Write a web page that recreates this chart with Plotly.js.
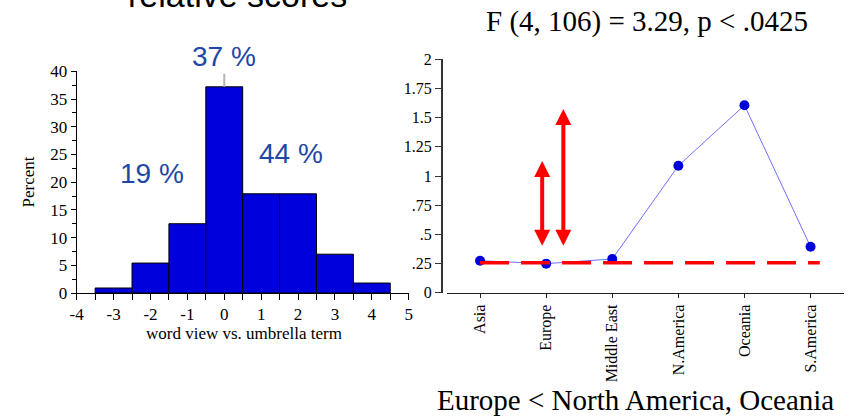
<!DOCTYPE html>
<html><head><meta charset="utf-8">
<script src="https://cdn.plot.ly/plotly-3.0.1.min.js"></script>
<style>html,body{margin:0;padding:0;background:#fff}#chart{width:854px;height:416px}</style>
</head><body><div id="chart"></div>
<script>
// ---- data ----
const binCenters = [-3, -2, -1, 0, 1, 2, 3, 4];
const binPercents = [0.9, 5.4, 12.5, 37.2, 17.9, 17.9, 7.0, 1.8];
const histXTicks = [-4, -3, -2, -1, 0, 1, 2, 3, 4, 5];
const histXTickLabels = ['-4', '-3', '-2', '-1', '0', '1', '2', '3', '4', '5'];
const regions = ['Asia', 'Europe', 'Middle East', 'N.America', 'Oceania', 'S.America'];
const regionMeans = [0.274, 0.249, 0.289, 1.088, 1.606, 0.394];
const meanTicks = [0, 0.25, 0.5, 0.75, 1, 1.25, 1.5, 1.75, 2];
const meanTickLabels = ['0', '.25', '.5', '.75', '1', '1.25', '1.5', '1.75', '2'];
const refLevel = 0.257;
const shareLabels = ['19 %', '37 %', '44 %'];

// ---- layout helpers ----
const W = 854, H = 416;
const px = v => v / W;
const py = v => 1 - v / H;
const SERIF = 'Liberation Serif, Times New Roman, serif';
const SANS = 'Liberation Sans, Arial, sans-serif';
const BLUE_TXT = '#1f47a6';

const traces = [
  {
    type: 'bar', x: binCenters, y: binPercents, width: 1,
    marker: {color: '#0000dd', line: {color: '#000', width: 1}},
    xaxis: 'x', yaxis: 'y', hoverinfo: 'none'
  },
  {
    type: 'scatter', mode: 'lines+markers', x: regions, y: regionMeans,
    line: {color: '#6f6fff', width: 1},
    marker: {color: '#0000dd', size: 10},
    xaxis: 'x2', yaxis: 'y2', hoverinfo: 'none'
  }
];

const layout = {
  width: W, height: H,
  margin: {l: 0, r: 0, t: 0, b: 0},
  paper_bgcolor: '#fff', plot_bgcolor: 'rgba(0,0,0,0)',
  showlegend: false,
  bargap: 0,
  xaxis: {
    domain: [px(76.7), px(408.7)], range: [-4, 5], anchor: 'y',
    tickvals: histXTicks, ticktext: histXTickLabels,
    showline: true, linecolor: '#000', linewidth: 1,
    ticks: 'outside', ticklen: 6, tickcolor: '#000', tickwidth: 1,
    minor: {dtick: 0.5, ticks: 'outside', ticklen: 6, tickcolor: '#000', showgrid: false},
    showgrid: false, zeroline: false,
    tickfont: {family: SERIF, size: 17, color: '#000'}
  },
  yaxis: {
    domain: [py(293), py(71.3)], range: [0, 40], anchor: 'x',
    dtick: 5, showline: true, linecolor: '#000', linewidth: 1,
    ticks: 'outside', ticklen: 5, tickcolor: '#000',
    minor: {dtick: 2.5, ticks: 'outside', ticklen: 3.5, tickcolor: '#000', showgrid: false},
    showgrid: false, zeroline: false,
    tickfont: {family: SERIF, size: 17, color: '#000'}
  },
  xaxis2: {
    domain: [px(447), px(843.6)], range: [-0.5, 5.5], anchor: 'y2', type: 'category',
    showline: true, linecolor: '#222', linewidth: 1.5,
    ticks: 'outside', ticklen: 4, tickcolor: '#222',
    tickangle: -90, showgrid: false, zeroline: false,
    tickfont: {family: SERIF, size: 16, color: '#000'}
  },
  yaxis2: {
    domain: [py(292.7), py(59.3)], range: [0, 2], anchor: 'free', position: px(441),
    tickvals: meanTicks, ticktext: meanTickLabels,
    showline: true, linecolor: '#333', linewidth: 1.5,
    ticks: 'outside', ticklen: 6, tickcolor: '#333',
    showgrid: false, zeroline: false,
    tickfont: {family: SERIF, size: 16, color: '#000'}
  },
  shapes: [
    {
      type: 'line', xref: 'x2', yref: 'y2', x0: 0, x1: 5.14, y0: refLevel, y1: refLevel,
      line: {color: '#ff0000', width: 3.5, dash: '29px,12px'}, layer: 'above'
    }
  ],
  annotations: [
    {xref: 'paper', yref: 'paper', x: px(238), y: py(-4.8), text: 'relative scores',
     showarrow: false, xanchor: 'center', yanchor: 'middle',
     font: {family: SANS, size: 34, color: '#000'}},
    {xref: 'paper', yref: 'paper', x: px(646.7), y: py(21.9), text: 'F (4, 106) = 3.29, p < .0425',
     showarrow: false, xanchor: 'center', yanchor: 'middle',
     font: {family: SERIF, size: 29, color: '#000'}},
    {xref: 'paper', yref: 'paper', x: px(635.8), y: py(399.5), text: 'Europe < North America, Oceania',
     showarrow: false, xanchor: 'center', yanchor: 'middle',
     font: {family: SERIF, size: 29, color: '#000'}},
    {xref: 'paper', yref: 'paper', x: px(28), y: py(182.5), text: 'Percent', textangle: -90,
     showarrow: false, xanchor: 'center', yanchor: 'middle',
     font: {family: SERIF, size: 17, color: '#000'}},
    {xref: 'paper', yref: 'paper', x: px(243.8), y: py(333), text: 'word view vs. umbrella term',
     showarrow: false, xanchor: 'center', yanchor: 'middle',
     font: {family: SERIF, size: 17, color: '#000'}},
    {xref: 'x', yref: 'y', x: -1.96, y: 21.6, text: shareLabels[0], showarrow: false,
     font: {family: SANS, size: 28, color: BLUE_TXT}},
    {xref: 'x', yref: 'y', x: binCenters[3], y: binPercents[3], text: shareLabels[1],
     showarrow: true, arrowhead: 0, arrowwidth: 2, arrowcolor: '#b4b4b4', ax: 0, ay: -30, standoff: 0,
     font: {family: SANS, size: 28, color: BLUE_TXT}},
    {xref: 'x', yref: 'y', x: 1.80, y: 25.2, text: shareLabels[2], showarrow: false,
     font: {family: SANS, size: 28, color: BLUE_TXT}},
    {xref: 'x2', yref: 'y2', x: 0.94, y: 1.128, axref: 'x2', ayref: 'y2', ax: 0.94, ay: 0.389,
     text: '', showarrow: true, arrowside: 'end+start', arrowhead: 2, startarrowhead: 2,
     arrowsize: 0.8, startarrowsize: 0.8, arrowwidth: 4, arrowcolor: '#ff0000', standoff: 0, startstandoff: 0},
    {xref: 'x2', yref: 'y2', x: 1.26, y: 1.574, axref: 'x2', ayref: 'y2', ax: 1.26, ay: 0.389,
     text: '', showarrow: true, arrowside: 'end+start', arrowhead: 2, startarrowhead: 2,
     arrowsize: 0.8, startarrowsize: 0.8, arrowwidth: 4, arrowcolor: '#ff0000', standoff: 0, startstandoff: 0}
  ]
};

Plotly.newPlot('chart', traces, layout, {displayModeBar: false, staticPlot: true});
</script>
</body></html>
